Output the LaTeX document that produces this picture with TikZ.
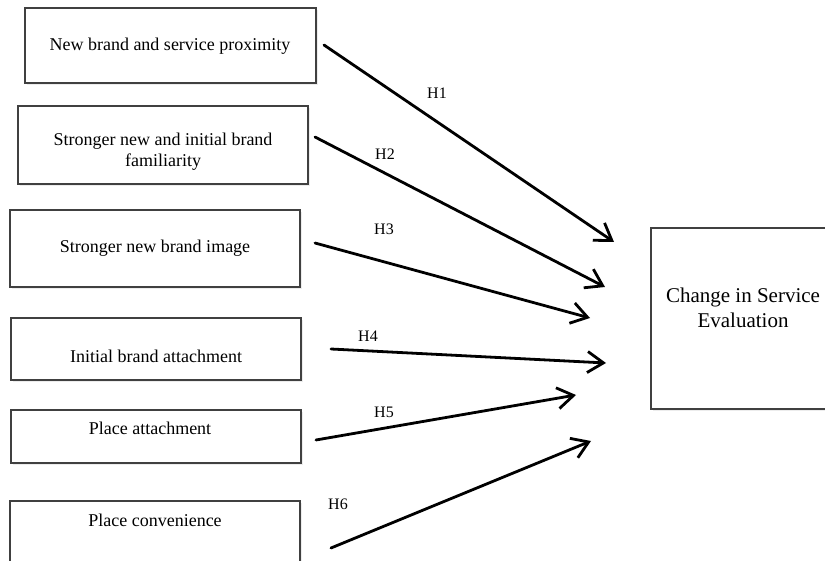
\documentclass[tikz,border=0pt]{standalone}
\usepackage{fontspec}
\setmainfont{Liberation Serif}
\usetikzlibrary{arrows.meta,shadows}
\begin{document}
\begin{tikzpicture}[x=1pt,y=-1pt,
  box/.style={draw=black!75,line width=1.2pt,fill=white,inner sep=0pt,
    drop shadow={opacity=0.15,shadow xshift=2pt,shadow yshift=-2pt}},
  lbl/.style={font=\fontsize{18}{21}\selectfont,align=center,inner sep=0pt},
  hyp/.style={font=\fontsize{16}{18}\selectfont,inner sep=0pt},
  arr/.style={line width=2.8pt,line cap=round,-{Straight Barb[length=16pt,width=21pt,line width=2.8pt]}}]
\useasboundingbox (0,0) rectangle (825,561);
\clip (0,0) rectangle (825,561);
\fill[white] (0,0) rectangle (825,561);
% boxes
\node[box,minimum width=291pt,minimum height=75pt] (b1) at (170.5,45.5) {};
\node[box,minimum width=290pt,minimum height=78pt] (b2) at (163,145) {};
\node[box,minimum width=290pt,minimum height=77pt] (b3) at (155,248.5) {};
\node[box,minimum width=290pt,minimum height=62pt] (b4) at (156,349) {};
\node[box,minimum width=290pt,minimum height=53pt] (b5) at (156,436.5) {};
\node[box,minimum width=290pt,minimum height=80pt] (b6) at (155,541) {};
\node[box,minimum width=200pt,minimum height=181pt] (cs) at (751,318.5) {};
% texts
\node[lbl] (t1) at (170,46) {New brand and service proximity};
\node[lbl] (t2) at (163,152) {Stronger new and initial brand\\familiarity};
\node[lbl] (t3) at (155,248) {Stronger new brand image};
\node[lbl] (t4) at (156,356) {Initial brand attachment};
\node[lbl] (t5) at (150,428) {Place attachment};
\node[lbl] (t6) at (155,520) {Place convenience};
\node[lbl,font=\fontsize{21}{25}\selectfont] (tc) at (743,308) {Change in Service\\Evaluation};
% arrow end points
\coordinate (s1) at (324,45);  \coordinate (e1) at (614,242);
\coordinate (s2) at (315,137); \coordinate (e2) at (605,287);
\coordinate (s3) at (315,243); \coordinate (e3) at (590,318);
\coordinate (s4) at (331,349); \coordinate (e4) at (606,363);
\coordinate (s5) at (316,440); \coordinate (e5) at (576,395);
\coordinate (s6) at (331,548); \coordinate (e6) at (591,441);
\draw[arr] (s1) -- (e1);
\draw[arr] (s2) -- (e2);
\draw[arr] (s3) -- (e3);
\draw[arr] (s4) -- (e4);
\draw[arr] (s5) -- (e5);
\draw[arr] (s6) -- (e6);
% hypothesis labels
\node[hyp] (h1) at (437,93) {H1};
\node[hyp] (h2) at (385,154) {H2};
\node[hyp] (h3) at (384,229) {H3};
\node[hyp] (h4) at (368,336) {H4};
\node[hyp] (h5) at (384,412) {H5};
\node[hyp] (h6) at (338,504) {H6};
\end{tikzpicture}
\end{document}
